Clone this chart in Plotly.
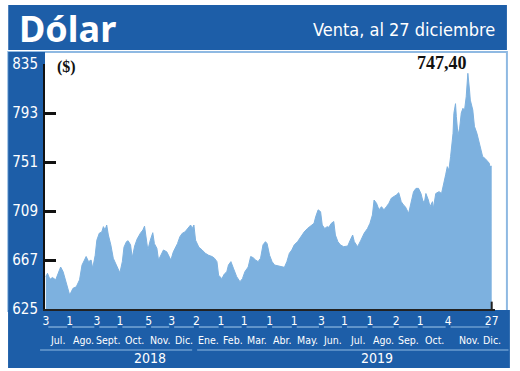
import pandas as pd
import plotly.graph_objects as go

# ---------------- data ----------------
dates = [
    "2018-07-03", "2018-07-05", "2018-07-08", "2018-07-11", "2018-07-15", "2018-07-17", "2018-07-21",
    "2018-07-24", "2018-07-28", "2018-08-01", "2018-08-05", "2018-08-09", "2018-08-13", "2018-08-16",
    "2018-08-19", "2018-08-21", "2018-08-24", "2018-08-27", "2018-08-29", "2018-09-01", "2018-09-03",
    "2018-09-06", "2018-09-09", "2018-09-11", "2018-09-13", "2018-09-15", "2018-09-17", "2018-09-20",
    "2018-09-23", "2018-09-25", "2018-09-28", "2018-10-01", "2018-10-04", "2018-10-06", "2018-10-09",
    "2018-10-11", "2018-10-14", "2018-10-16", "2018-10-19", "2018-10-22", "2018-10-26", "2018-10-29",
    "2018-10-31", "2018-11-02", "2018-11-04", "2018-11-07", "2018-11-10", "2018-11-12", "2018-11-15",
    "2018-11-17", "2018-11-20", "2018-11-23", "2018-11-27", "2018-11-30", "2018-12-02", "2018-12-05",
    "2018-12-08", "2018-12-10", "2018-12-13", "2018-12-16", "2018-12-19", "2018-12-23", "2018-12-26",
    "2018-12-28", "2018-12-30", "2019-01-01", "2019-01-05", "2019-01-09", "2019-01-13", "2019-01-17",
    "2019-01-21", "2019-01-24", "2019-01-27", "2019-01-29", "2019-02-02", "2019-02-05", "2019-02-08",
    "2019-02-10", "2019-02-13", "2019-02-16", "2019-02-20", "2019-02-24", "2019-02-27", "2019-03-02",
    "2019-03-06", "2019-03-09", "2019-03-12", "2019-03-15", "2019-03-18", "2019-03-21", "2019-03-24",
    "2019-03-27", "2019-03-29", "2019-04-01", "2019-04-04", "2019-04-07", "2019-04-11", "2019-04-15",
    "2019-04-19", "2019-04-22", "2019-04-25", "2019-04-28", "2019-05-01", "2019-05-05", "2019-05-09",
    "2019-05-13", "2019-05-17", "2019-05-21", "2019-05-25", "2019-05-27", "2019-05-30", "2019-06-02",
    "2019-06-04", "2019-06-07", "2019-06-10", "2019-06-12", "2019-06-15", "2019-06-18", "2019-06-20",
    "2019-06-23", "2019-06-26", "2019-06-30", "2019-07-05", "2019-07-08", "2019-07-11", "2019-07-13",
    "2019-07-17", "2019-07-21", "2019-07-25", "2019-07-29", "2019-08-01", "2019-08-04", "2019-08-06",
    "2019-08-09", "2019-08-12", "2019-08-15", "2019-08-18", "2019-08-21", "2019-08-24", "2019-08-27",
    "2019-08-30", "2019-09-02", "2019-09-05", "2019-09-08", "2019-09-11", "2019-09-13", "2019-09-17",
    "2019-09-20", "2019-09-23", "2019-09-26", "2019-09-29", "2019-10-02", "2019-10-04", "2019-10-06",
    "2019-10-08", "2019-10-11", "2019-10-13", "2019-10-16", "2019-10-17", "2019-10-20", "2019-10-24",
    "2019-10-27", "2019-10-30", "2019-11-01", "2019-11-03", "2019-11-05", "2019-11-07", "2019-11-10",
    "2019-11-11", "2019-11-13", "2019-11-14", "2019-11-16", "2019-11-18", "2019-11-20", "2019-11-22",
    "2019-11-24", "2019-11-26", "2019-11-28", "2019-11-30", "2019-12-01", "2019-12-04", "2019-12-06",
    "2019-12-09", "2019-12-13", "2019-12-16", "2019-12-19", "2019-12-21", "2019-12-24", "2019-12-25",
    "2019-12-27",
]
values = [
    652.7, 655.6, 650.4, 652.0, 650.0, 654.0, 661.0,
    657.0, 648.0, 637.0, 642.7, 644.0, 650.0, 662.7,
    667.0, 670.0, 665.6, 667.0, 660.0, 671.0, 684.0,
    690.0, 691.0, 695.6, 692.7, 697.0, 688.4, 680.0,
    668.5, 665.6, 660.0, 656.0, 665.6, 678.0, 682.7,
    683.5, 680.0, 669.0, 679.0, 685.0, 690.0, 692.7,
    696.0, 687.0, 675.6, 684.0, 690.4, 681.0, 677.0,
    667.0, 671.0, 675.6, 674.0, 670.0, 667.0, 674.0,
    678.0, 681.0, 687.0, 690.0, 691.0, 694.0, 697.0,
    694.0, 697.0, 684.0, 678.0, 675.6, 672.7, 671.0,
    670.0, 668.5, 665.6, 654.0, 651.0, 655.0, 657.0,
    662.7, 665.6, 660.0, 652.7, 648.4, 651.0, 657.0,
    661.0, 670.0, 669.0, 667.0, 665.6, 668.5, 680.0,
    682.7, 681.0, 671.0, 665.6, 662.7, 662.0, 661.0,
    660.7, 665.6, 672.7, 675.6, 680.0, 682.7, 687.0,
    691.0, 694.0, 696.0, 698.4, 704.0, 710.0, 708.4,
    697.0, 694.0, 695.6, 695.0, 698.4, 700.0, 688.4,
    682.7, 680.0, 678.4, 679.0, 684.0, 688.4, 682.7,
    678.4, 684.0, 690.0, 694.0, 698.4, 705.6, 718.4,
    715.6, 710.0, 712.7, 710.0, 712.7, 715.6, 720.0,
    721.0, 722.7, 724.7, 717.0, 714.0, 712.7, 707.0,
    715.6, 725.6, 728.4, 728.4, 724.0, 718.4, 715.6,
    724.0, 718.4, 712.7, 717.0, 711.0, 724.0, 725.6,
    724.0, 735.6, 740.0, 747.0, 744.0, 755.6, 775.6,
    792.7, 801.0, 790.0, 774.0, 780.0, 793.0, 797.0,
    795.6, 807.0, 827.0, 812.7, 804.0, 795.6, 781.6,
    775.6, 764.0, 755.6, 754.0, 752.7, 750.0, 747.0,
    747.4,
]
tick_dates = [
    "2018-07-03", "2018-08-01", "2018-09-03", "2018-10-01", "2018-11-05", "2018-12-03",
    "2019-01-02", "2019-02-01", "2019-03-01", "2019-04-01", "2019-05-01", "2019-06-03",
    "2019-07-01", "2019-08-01", "2019-09-02", "2019-10-01", "2019-11-04", "2019-12-27",
]
tick_text = ["3", "1", "3", "1", "5", "3", "2", "1", "1", "1", "1", "3", "1", "1", "2", "1", "4", "27"]
month_names = ["Jul.", "Ago.", "Sept.", "Oct.", "Nov.", "Dic.", "Ene.", "Feb.", "Mar.",
               "Abr.", "May.", "Jun.", "Jul.", "Ago.", "Sep.", "Oct.", "Nov.", "Dic."]
years = ["2018", "2019"]
y_ticks = [625, 667, 709, 751, 793, 835]
title = "Dólar"
subtitle = "Venta, al 27 diciembre"
unit = "($)"
last_label = "747,40"

# ---------------- style ----------------
BLUE = "#1d5ea8"
FILL = "#7db1df"
LIGHT = "#8fb9e2"
NARROW = "Liberation Sans Narrow, Arial Narrow, DejaVu Sans Condensed, Roboto, sans-serif"
SERIF = "Liberation Serif, Times New Roman, serif"

fig = go.Figure()
fig.add_trace(go.Scatter(
    x=dates, y=values, mode="lines", fill="tozeroy",
    fillcolor=FILL, line=dict(color=FILL, width=1), hoverinfo="skip",
))

shapes = [
    # title bar
    dict(type="rect", xref="paper", yref="paper", x0=-0.0817, x1=1.0265, y0=1.0571, y1=1.2408,
         fillcolor=BLUE, line=dict(width=0), layer="below"),
    # light frame of the chart box
    dict(type="rect", xref="paper", yref="paper", x0=-0.0817, x1=1.0265, y0=-0.008, y1=1.049,
         fillcolor="rgba(0,0,0,0)", line=dict(color=LIGHT, width=2), layer="below"),
    # left column
    dict(type="rect", xref="paper", yref="paper", x0=-0.0817, x1=0, y0=-0.2408, y1=1.049,
         fillcolor=BLUE, line=dict(width=0), layer="below"),
    # bottom band
    dict(type="rect", xref="paper", yref="paper", x0=-0.0817, x1=1.0331, y0=-0.2408, y1=-0.004,
         fillcolor=BLUE, line=dict(width=0), layer="below"),
]

td = pd.to_datetime(tick_dates)
gap = pd.Timedelta(days=3)
annotations = []
for i, name in enumerate(month_names):
    if i < len(td) - 1:
        a, b = td[i], td[i + 1]
        mid = a + (b - a) / 2
        shapes.append(dict(type="line", xref="x", yref="paper", x0=a + gap, x1=b - gap,
                           y0=-0.0735, y1=-0.0735, line=dict(color=LIGHT, width=1.2)))
    else:
        mid = td[i]
    annotations.append(dict(x=mid, y=-0.1265, xref="x", yref="paper", text=name,
                            showarrow=False, xanchor="center", yanchor="middle",
                            font=dict(family=NARROW, size=10.5, color="white")))

# year separator lines
shapes.append(dict(type="line", xref="paper", yref="paper", x0=-0.011, x1=0.327,
                   y0=-0.1673, y1=-0.1673, line=dict(color=LIGHT, width=1.2)))
shapes.append(dict(type="line", xref="paper", yref="paper", x0=0.338, x1=1.03,
                   y0=-0.1673, y1=-0.1673, line=dict(color=LIGHT, width=1.2)))
for yr, px in zip(years, [0.2329, 0.7373]):
    annotations.append(dict(x=px, y=-0.2, xref="paper", yref="paper", text=yr, showarrow=False,
                            xanchor="center", yanchor="middle",
                            font=dict(family=NARROW, size=14, color="white")))

# end marker
shapes.append(dict(type="line", xref="x", yref="paper", x0=dates[-1], x1=dates[-1],
                   y0=-0.004, y1=0.03, line=dict(color="#222", width=2)))

annotations += [
    dict(x=-0.062, y=1.1429, xref="paper", yref="paper", text="<b>%s</b>" % title,
         showarrow=False, xanchor="left", yanchor="middle",
         font=dict(family="Noto Sans, Lato, sans-serif", size=36, color="white")),
    dict(x=1.0044, y=1.1388, xref="paper", yref="paper", text=subtitle,
         showarrow=False, xanchor="right", yanchor="middle",
         font=dict(family=NARROW, size=18, color="white")),
    dict(x=0.022, y=0.9878, xref="paper", yref="paper", text="<b>%s</b>" % unit,
         showarrow=False, xanchor="left", yanchor="middle",
         font=dict(family=SERIF, size=16, color="#111")),
    dict(x=0.883, y=1.006, xref="paper", yref="paper", text="<b>%s</b>" % last_label,
         showarrow=False, xanchor="center", yanchor="middle",
         font=dict(family=SERIF, size=18, color="#111")),
]

fig.update_layout(
    width=520, height=371,
    margin=dict(l=42, r=25, t=64, b=62, pad=0),
    paper_bgcolor="white", plot_bgcolor="white",
    showlegend=False,
    shapes=shapes, annotations=annotations,
    xaxis=dict(type="date", range=["2018-07-02", "2019-12-31"],
               tickvals=tick_dates, ticktext=tick_text, tickangle=0,
               showgrid=False, zeroline=False, showline=True,
               linecolor="#222", linewidth=2, ticks="",
               tickfont=dict(family=NARROW, size=12, color="white")),
    yaxis=dict(range=[625, 835], tickvals=y_ticks, showgrid=False, zeroline=False,
               showline=True, linecolor="#111", linewidth=2,
               ticks="inside", ticklen=11, tickwidth=2.5, tickcolor="#111",
               ticklabelstandoff=2,
               tickfont=dict(family=NARROW, size=15, color="white")),
)

fig.write_html("out.html", config={"displayModeBar": False},
               post_script="document.body.style.margin='0px';")
